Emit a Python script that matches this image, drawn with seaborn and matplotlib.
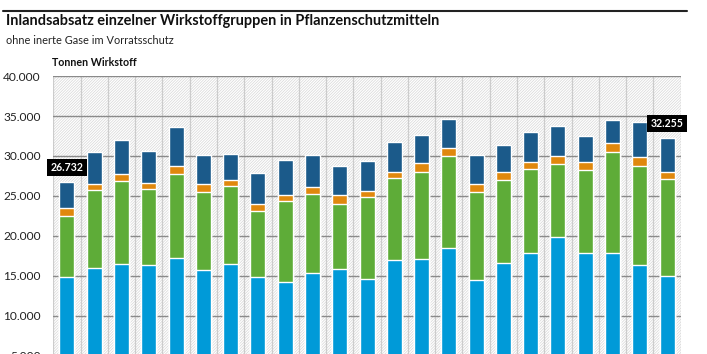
import numpy as np
import pandas as pd
import matplotlib
matplotlib.use("Agg")
import matplotlib.pyplot as plt
from matplotlib.patches import Rectangle
import seaborn as sns

# Data (tonnes of active substance)
years = [str(y) for y in range(2000, 2023)]
herbizide = [14830, 16040, 16500, 16420, 17250, 15790, 16500, 14920, 14290, 15330, 15870, 14670,
             16960, 17130, 18540, 14540, 16670, 17920, 19875, 17830, 17830, 16330, 15000]
fungizide = [7670, 9670, 10420, 9410, 10540, 9750, 9750, 8200, 10080, 9960, 8170, 10160,
             10250, 10910, 11500, 10960, 10330, 10410, 9085, 10420, 12670, 12460, 12125]
insektizide = [960, 830, 830, 750, 1000, 920, 750, 840, 800, 830, 1080, 840,
               830, 1130, 1000, 1040, 1000, 920, 1080, 960, 1080, 1040, 875]
totals = [26732, 30460, 32000, 30670, 33625, 30170, 30250, 27830, 29460, 30080, 28790, 29420,
          31750, 32670, 34630, 30125, 31420, 33000, 33790, 32500, 34500, 34210, 32255]
sonstige = [t - h - f - i for t, h, f, i in zip(totals, herbizide, fungizide, insektizide)]

labels = ["Herbizide", "Fungizide", "Insektizide und Akarizide", "Sonstige"]
colors = ["#009ad8", "#5eac38", "#e0880d", "#1b5a8a"]

df = pd.DataFrame({"Jahr": years, "Herbizide": herbizide, "Fungizide": fungizide,
                   "Insektizide und Akarizide": insektizide, "Sonstige": sonstige})
cum = df[labels].cumsum(axis=1)

sns.set_theme(style="white")
plt.rcParams["font.family"] = ["Lato", "DejaVu Sans"]
plt.rcParams["hatch.linewidth"] = 0.5

fig = plt.figure(figsize=(7.07, 3.54), dpi=100)
ax = fig.add_axes([0.0754, -0.1186, 0.8874, 0.9039])
ax.set_facecolor("white")

# hatched background
ax.add_patch(Rectangle((0, 0), 1, 1, transform=ax.transAxes, facecolor="white",
                       edgecolor="#d6d6d6", hatch="////////////", lw=0, zorder=0))

# stacked bars: draw cumulative tops first, lower layers over them
for lab, col in reversed(list(zip(labels, colors))):
    sns.barplot(x=df["Jahr"], y=cum[lab], color=col, width=0.55, saturation=1,
                ax=ax, zorder=2)

ax.set_xlim(-0.5, 22.5)
ax.set_ylim(0, 40000)
ax.set_yticks(np.arange(5000, 40001, 5000))
ax.set_yticklabels([f"{v:,}".replace(",", ".") for v in range(5000, 40001, 5000)],
                   fontsize=8.6, color="#222222")
# year labels lie below the visible crop of the reference
ax.set_xticks([])
ax.set_xticks(np.arange(-0.5, 23, 1), minor=True)
ax.tick_params(axis="both", which="both", length=0)
ax.tick_params(axis="y", pad=9)
ax.set_xlabel("")
ax.set_ylabel("")
ax.set_axisbelow(True)
ax.grid(axis="y", color="#8a8a8a", lw=1.0, zorder=1)
ax.grid(axis="x", which="minor", color="#cccccc", lw=0.9, zorder=1)
for s in ax.spines.values():
    s.set_visible(False)

# value labels for first and last year
for idx in (0, len(years) - 1):
    ax.annotate(f"{totals[idx]:,}".replace(",", "."), xy=(idx, totals[idx]),
                xytext=(0, 6.5), textcoords="offset points", ha="center", va="bottom",
                fontsize=7.6, fontweight="bold", color="white", zorder=5,
                bbox=dict(boxstyle="square,pad=0.3", fc="black", ec="none"))

# header
fig.add_artist(plt.Line2D([3 / 707, 687 / 707], [1 - 11 / 354, 1 - 11 / 354],
                          color="#222222", lw=1.5))
fig.text(6 / 707, 1 - 21 / 354, "Inlandsabsatz einzelner Wirkstoffgruppen in Pflanzenschutzmitteln",
         fontsize=10.45, fontweight="bold", va="center", ha="left", color="#111111")
fig.text(6 / 707, 1 - 41 / 354, "ohne inerte Gase im Vorratsschutz",
         fontsize=7.9, va="center", ha="left", color="#222222")
fig.text(52 / 707, 1 - 63 / 354, "Tonnen Wirkstoff",
         fontsize=7.7, fontweight="bold", va="center", ha="left", color="#111111")

fig.savefig("out.png", dpi=100)
